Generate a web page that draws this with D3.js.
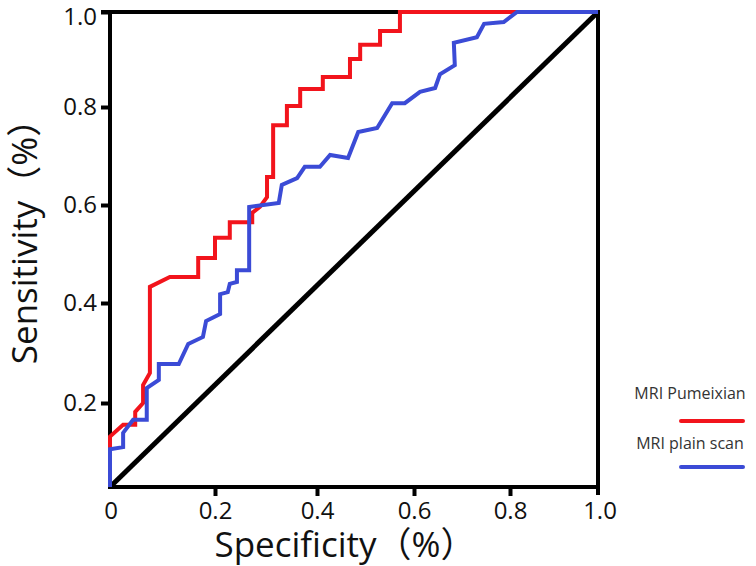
<!DOCTYPE html>
<html lang="en">
<head>
  <meta charset="UTF-8">
  <title>ROC curves</title>
  <style>
    html, body { margin: 0; padding: 0; background: #fff; }
    body { font-family: "Open Sans", "Noto Sans CJK SC", sans-serif; overflow: hidden; }
    .tick text { font-family: "Open Sans", sans-serif; font-size: 24px; fill: #111; }
    .tick line { stroke: #000; stroke-width: 4; }
  </style>
  <script src="https://d3js.org/d3.v7.min.js"></script>
</head>
<body>
  <svg width="756" height="566"></svg>
  <script>
    // values (specificity, sensitivity)
    const tickValues = [0, 0.2, 0.4, 0.6, 0.8, 1.0];
    const xTickLabels = ["0", "0.2", "0.4", "0.6", "0.8", "1.0"];
    const yTickLabels = ["", "0.2", "0.4", "0.6", "0.8", "1.0"];

    const pumeixianSpec = [0, 0, 0.025, 0.048, 0.048, 0.063, 0.063, 0.076, 0.076, 0.114, 0.168, 0.168, 0.2, 0.2, 0.229, 0.229, 0.273, 0.273, 0.288, 0.302, 0.302, 0.314, 0.314, 0.341, 0.341, 0.367, 0.367, 0.412, 0.412, 0.468, 0.468, 0.489, 0.489, 0.53, 0.53, 0.571, 0.571, 1];
    const pumeixianSens = [0, 0.12, 0.148, 0.148, 0.179, 0.2, 0.236, 0.26, 0.433, 0.453, 0.453, 0.492, 0.492, 0.533, 0.533, 0.565, 0.565, 0.584, 0.596, 0.616, 0.657, 0.657, 0.763, 0.763, 0.802, 0.802, 0.838, 0.838, 0.863, 0.863, 0.901, 0.901, 0.931, 0.931, 0.96, 0.96, 1, 1];

    const plainSpec = [0, 0, 0.025, 0.025, 0.044, 0.07, 0.07, 0.093, 0.093, 0.131, 0.149, 0.177, 0.183, 0.21, 0.21, 0.225, 0.229, 0.243, 0.243, 0.267, 0.267, 0.325, 0.331, 0.361, 0.376, 0.406, 0.427, 0.464, 0.485, 0.524, 0.555, 0.581, 0.6125, 0.644, 0.654, 0.685, 0.683, 0.731, 0.746, 0.787, 0.816, 1];
    const plainSens = [0, 0.09, 0.095, 0.129, 0.16, 0.16, 0.23, 0.246, 0.278, 0.278, 0.318, 0.332, 0.364, 0.378, 0.418, 0.422, 0.439, 0.443, 0.467, 0.467, 0.596, 0.604, 0.641, 0.655, 0.678, 0.678, 0.702, 0.696, 0.749, 0.757, 0.808, 0.808, 0.832, 0.84, 0.869, 0.888, 0.935, 0.947, 0.975, 0.979, 1, 1];

    const seriesNames = ["MRI Pumeixian", "MRI plain scan"];
    const seriesColors = ["#f2141c", "#3b4bd6"];

    const svg = d3.select("svg");

    // the original image is slightly stretched, so the scales are piecewise
    const x = d3.scaleLinear().domain(tickValues).range([110, 215, 317, 414, 510, 598]);
    const y = d3.scaleLinear().domain(tickValues).range([487, 403, 303, 205, 107, 12]);

    const line = d3.line().x(d => x(d[0])).y(d => y(d[1]));

    // reference diagonal
    svg.append("path")
      .attr("d", line([[0, 0], [1, 1]]))
      .attr("stroke", "#000")
      .attr("stroke-width", 5);

    // frame: top and right lines
    svg.append("line")
      .attr("x1", x(0) - 9).attr("x2", x(1) + 2)
      .attr("y1", y(1)).attr("y2", y(1))
      .attr("stroke", "#000").attr("stroke-width", 4);
    svg.append("line")
      .attr("x1", x(1)).attr("x2", x(1))
      .attr("y1", y(1)).attr("y2", y(0) + 8)
      .attr("stroke", "#000").attr("stroke-width", 4);

    // axes
    const xAxis = svg.append("g")
      .attr("transform", `translate(0,${y(0)})`)
      .call(d3.axisBottom(x).tickValues(tickValues.slice(1, 5)).tickSize(9).tickPadding(6)
        .tickFormat(d => xTickLabels[tickValues.indexOf(d)]));
    xAxis.select(".domain").remove();
    xAxis.selectAll(".tick text").attr("dy", "0.71em").attr("y", 15);

    // labels for 0 and 1.0 that have no tick from the axis generator
    [0, 1].forEach(v => {
      xAxis.append("text")
        .attr("x", x(v) + (v === 1 ? 2 : 1))
        .attr("y", 15)
        .attr("dy", "0.71em")
        .attr("text-anchor", "middle")
        .style("font-family", "'Open Sans', sans-serif")
        .style("font-size", "24px")
        .attr("fill", "#111")
        .text(xTickLabels[tickValues.indexOf(v)]);
    });

    const yAxis = svg.append("g")
      .attr("transform", `translate(${x(0)},0)`)
      .call(d3.axisLeft(y).tickValues(tickValues.slice(1)).tickSize(9).tickPadding(4)
        .tickFormat(d => yTickLabels[tickValues.indexOf(d)]));
    yAxis.select(".domain").remove();
    yAxis.selectAll(".tick text").filter(d => d === 1).attr("y", 5);

    svg.append("line")
      .attr("x1", x(0)).attr("x2", x(0))
      .attr("y1", y(1) - 2).attr("y2", y(0) + 2)
      .attr("stroke", "#000").attr("stroke-width", 4);
    svg.append("line")
      .attr("x1", x(0) - 2).attr("x2", x(1) + 2)
      .attr("y1", y(0)).attr("y2", y(0))
      .attr("stroke", "#000").attr("stroke-width", 4);

    // curves drawn over the frame
    const series = [
      d3.zip(pumeixianSpec, pumeixianSens),
      d3.zip(plainSpec, plainSens)
    ];
    series.forEach((pts, i) => {
      svg.append("path")
        .attr("d", line(pts))
        .attr("fill", "none")
        .attr("stroke", seriesColors[i])
        .attr("stroke-width", 4)
        .attr("stroke-linejoin", "miter");
    });

    // axis titles
    svg.append("text")
      .attr("x", 345).attr("y", 557)
      .attr("text-anchor", "middle")
      .style("font-size", "35px")
      .attr("fill", "#111")
      .text("Specificity（%）");

    svg.append("text")
      .attr("transform", "translate(37,233) rotate(-90)")
      .attr("text-anchor", "middle")
      .style("font-size", "35px")
      .attr("fill", "#111")
      .text("Sensitivity（%）");

    // legend
    const legend = svg.append("g");
    seriesNames.forEach((name, i) => {
      legend.append("text")
        .attr("x", 690).attr("y", 399 + i * 50)
        .attr("text-anchor", "middle")
        .style("font-size", "16px")
        .attr("fill", "#333")
        .text(name);
      legend.append("line")
        .attr("x1", 681).attr("x2", 743)
        .attr("y1", 421 + i * 46).attr("y2", 421 + i * 46)
        .attr("stroke", seriesColors[i])
        .attr("stroke-width", 4)
        .attr("stroke-linecap", "round");
    });
  </script>
</body>
</html>
